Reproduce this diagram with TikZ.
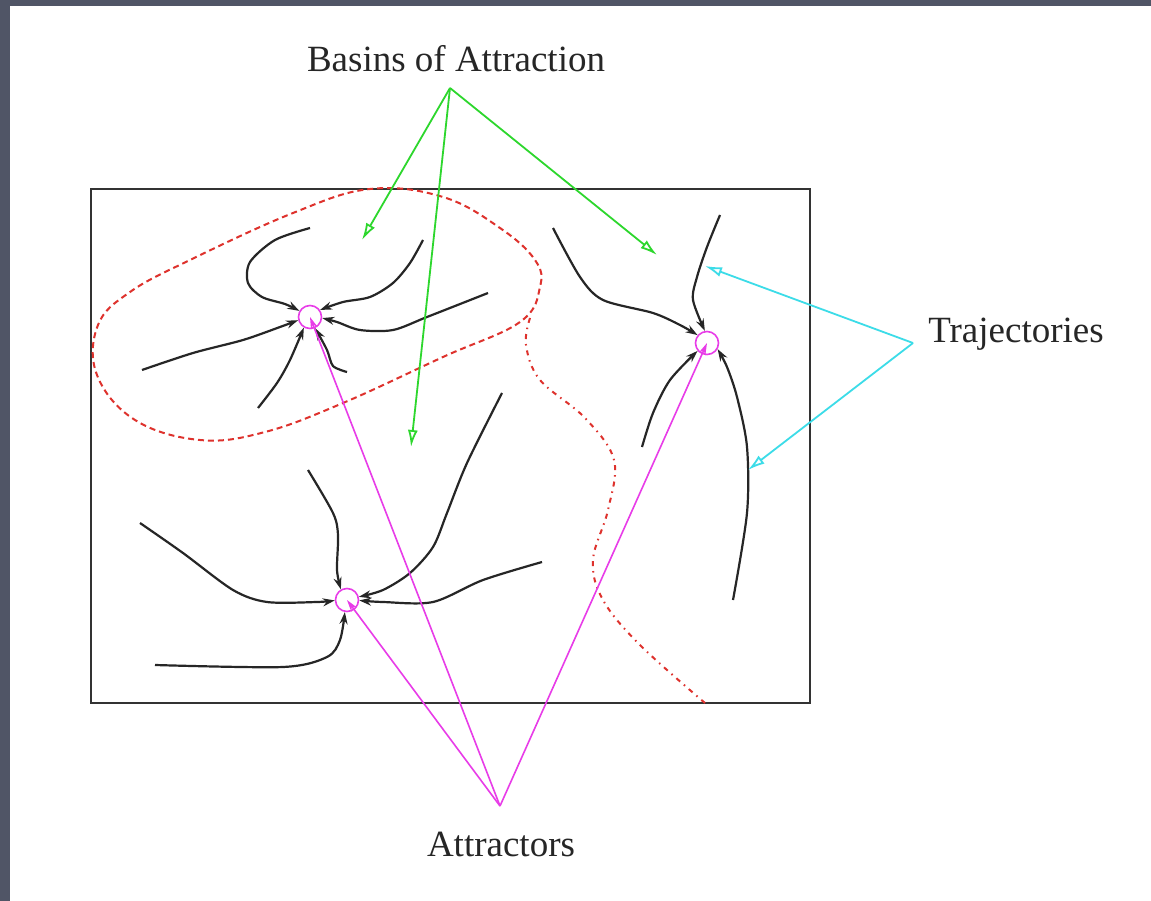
\documentclass[tikz,border=0pt]{standalone}
\usepackage{fontspec}
\setmainfont{Liberation Serif}
\usetikzlibrary{arrows.meta}
\definecolor{slate}{RGB}{80,85,102}
\definecolor{grn}{RGB}{45,215,45}
\definecolor{cyn}{RGB}{60,220,232}
\definecolor{mag}{RGB}{232,60,232}
\definecolor{rd}{RGB}{222,50,45}
\tikzset{
  label/.style={font=\fontsize{37}{40}\selectfont, text=black!85, anchor=base, inner sep=0pt},
  attractor/.style={circle, draw=mag, line width=1.6pt, minimum size=23pt, inner sep=0pt},
  traj/.style={black!85, line width=2.2pt, -{Stealth[length=12pt,width=8pt]}},
  grnarrow/.style={grn, line width=1.8pt, -{Latex[open,length=17pt,width=10pt]}},
  cynarrow/.style={cyn, line width=1.8pt, -{Latex[open,length=17pt,width=10pt]}},
  magarrow/.style={mag, line width=1.6pt, -{Stealth[length=12pt,width=7pt]}},
  basin/.style={rd, line width=2pt, dash pattern=on 6pt off 4pt},
  basintwo/.style={rd, line width=2pt, dash pattern=on 5pt off 5pt on 1.5pt off 5pt},
}
\begin{document}
\begin{tikzpicture}[x=1pt,y=-1pt]
\useasboundingbox (0,0) rectangle (1151,901);
\fill[slate] (0,0) rectangle (1151,901);
\fill[white] (10,6) rectangle (1151,901);

% frame
\draw[black!80, line width=2.8pt] (91,189) rectangle (810,703);

% basins boundaries
\draw[basin] plot[smooth cycle, tension=0.65] coordinates {
  (540,287) (520,322) (443,357) (343,403) (265,432) (200,440) (135,420)
  (97,375) (98,325) (130,292) (190,260) (293,213) (370,189) (443,197) (500,228) (535,260)};
\draw[basintwo] plot[smooth, tension=0.6] coordinates {
  (530,318) (526,345) (540,380) (585,418) (614,460) (608,510) (593,560)
  (603,600) (640,645) (705,703)};

% attractors
\node[attractor] (att1) at (310,317) {};
\node[attractor] (att2) at (347,600) {};
\node[attractor] (att3) at (707,343) {};

% trajectories to attractor 1
\draw[traj] plot[smooth] coordinates {(310,228) (275,240) (250,262) (248,283) (262,297) (285,304) (att1.150)};
\draw[traj] plot[smooth] coordinates {(423,240) (410,263) (393,283) (370,297) (343,302) (att1.35)};
\draw[traj] plot[smooth] coordinates {(488,293) (427,317) (393,330) (360,330) (337,322) (att1.-5)};
\draw[traj] plot[smooth] coordinates {(142,370) (193,353) (243,340) (280,327) (att1.195)};
\draw[traj] plot[smooth] coordinates {(258,408) (277,383) (290,360) (att1.240)};
\draw[traj] plot[smooth] coordinates {(347,372) (333,366) (327,350) (att1.-65)};

% trajectories to attractor 2
\draw[traj] plot[smooth] coordinates {(140,523) (183,553) (233,590) (267,602) (317,602) (att2.182)};
\draw[traj] plot[smooth] coordinates {(308,470) (333,513) (338,535) (337,570) (att2.120)};
\draw[traj] plot[smooth] coordinates {(502,393) (467,463) (447,513) (433,547) (410,573) (383,590) (att2.15)};
\draw[traj] plot[smooth] coordinates {(542,562) (483,580) (433,602) (383,602) (att2.-2)};
\draw[traj] plot[smooth] coordinates {(155,665) (283,667) (327,657) (340,640) (att2.-100)};

% trajectories to attractor 3
\draw[traj] plot[smooth] coordinates {(553,228) (580,277) (603,300) (653,313) (680,325) (att3.140)};
\draw[traj] plot[smooth] coordinates {(720,215) (707,247) (697,277) (693,300) (att3.100)};
\draw[traj] plot[smooth] coordinates {(642,447) (653,413) (670,380) (att3.220)};
\draw[traj] plot[smooth] coordinates {(733,600) (747,513) (747,447) (737,397) (727,367) (att3.-30)};

% labels
\node[label] (basins) at (456,72) {Basins of Attraction};
\node[label] (trajlab) at (1016,342) {Trajectories};
\node[label] (attlab) at (501,856) {Attractors};

% pointer origins and free ends
\coordinate (gapex) at (450,88);
\coordinate (g1) at (362,240);
\coordinate (g2) at (411,447);
\coordinate (g3) at (657,255);
\coordinate (capex) at (913,343);
\coordinate (c1) at (705,266);
\coordinate (c2) at (748,470);
\coordinate (mapex) at (500,806);

\draw[grnarrow] (gapex) -- (g1);
\draw[grnarrow] (gapex) -- (g2);
\draw[grnarrow] (gapex) -- (g3);
\draw[cynarrow] (capex) -- (c1);
\draw[cynarrow] (capex) -- (c2);
\draw[magarrow] (mapex) -- (att1.center);
\draw[magarrow] (mapex) -- (att2.center);
\draw[magarrow] (mapex) -- (att3.center);
\end{tikzpicture}
\end{document}
